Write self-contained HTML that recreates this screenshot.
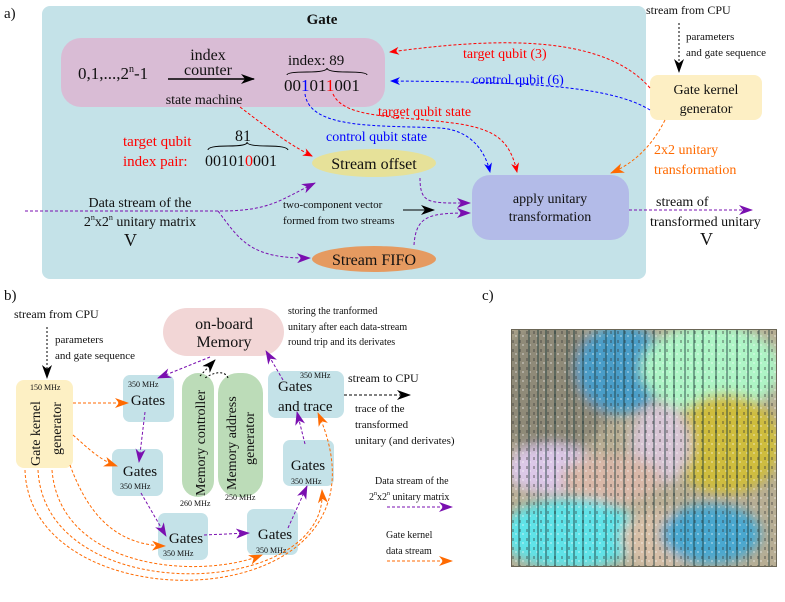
<!DOCTYPE html>
<html><head><meta charset="utf-8"><style>
body{margin:0;background:#fff}
svg{display:block}
text{font-family:"Liberation Serif",serif;fill:#111}
</style></head><body>
<svg width="785" height="602" viewBox="0 0 785 602" xmlns="http://www.w3.org/2000/svg">
<defs>
<marker id="mr" markerWidth="10" markerHeight="8" refX="9" refY="4" orient="auto" markerUnits="userSpaceOnUse"><path d="M0,0 L10,4 L0,8 L3,4z" fill="#f00"/></marker>
<marker id="mb" markerWidth="10" markerHeight="8" refX="9" refY="4" orient="auto" markerUnits="userSpaceOnUse"><path d="M0,0 L10,4 L0,8 L3,4z" fill="#00f"/></marker>
<marker id="mp" markerWidth="14" markerHeight="10" refX="13" refY="5" orient="auto" markerUnits="userSpaceOnUse"><path d="M0,0 L14,5 L0,10 L4,5z" fill="#7a0fb0"/></marker>
<marker id="mo" markerWidth="14" markerHeight="10" refX="13" refY="5" orient="auto" markerUnits="userSpaceOnUse"><path d="M0,0 L14,5 L0,10 L4,5z" fill="#ff6a00"/></marker>
<marker id="mk" markerWidth="14" markerHeight="10" refX="13" refY="5" orient="auto" markerUnits="userSpaceOnUse"><path d="M0,0 L14,5 L0,10 L4,5z" fill="#000"/></marker>
<filter id="bl"><feGaussianBlur stdDeviation="6"/></filter>
<pattern id="nz" width="7" height="9" patternUnits="userSpaceOnUse"><rect x="1" y="2" width="2" height="3" fill="#333" opacity="0.35"/><rect x="4" y="6" width="2" height="2" fill="#fff" opacity="0.3"/></pattern>
</defs>

<text x="4" y="18" font-size="15">a)</text>
<rect x="42" y="6" width="604" height="273" rx="8" fill="#c4e2e8"/>
<text x="322" y="24" font-size="15" font-weight="bold" text-anchor="middle">Gate</text>
<rect x="61" y="38" width="324" height="69" rx="20" fill="#d9bcd5"/>
<text x="78" y="79" font-size="17">0,1,...,2<tspan font-size="10" dy="-7">n</tspan><tspan dy="7">-1</tspan></text>
<text x="208" y="60" font-size="16" text-anchor="middle">index</text>
<text x="208" y="75" font-size="16" text-anchor="middle">counter</text>
<line x1="168" y1="79" x2="254" y2="79" stroke="#000" stroke-width="1.5" marker-end="url(#mk)"/>
<text x="204" y="104" font-size="14" text-anchor="middle">state machine</text>
<text x="288" y="65" font-size="15">index: 89</text>
<path d="M287,75 q0,-3 20,-3 t20,-4 q0,4 20,4 t20,3" fill="none" stroke="#000"/>
<text x="284" y="91" font-size="17">00<tspan fill="#00f">1</tspan>01<tspan fill="#f00">1</tspan>001</text>

<text x="123" y="146" font-size="15" style="fill:#f00">target qubit</text>
<text x="123" y="166" font-size="15" style="fill:#f00">index pair:</text>
<text x="235" y="141" font-size="16">81</text>
<path d="M208,150 q0,-4 20,-4 t19,-4 q0,4 20,4 t21,4" fill="none" stroke="#000"/>
<text x="205" y="166" font-size="16">00101<tspan style="fill:#f00">0</tspan>001</text>

<ellipse cx="374" cy="163" rx="62" ry="14" fill="#e6e199"/>
<text x="374" y="169" font-size="16" text-anchor="middle">Stream offset</text>
<ellipse cx="374" cy="259" rx="62" ry="13" fill="#e59a60"/>
<text x="374" y="265" font-size="16" text-anchor="middle">Stream FIFO</text>
<rect x="472" y="175" width="157" height="65" rx="18" fill="#b3bbe8"/>
<text x="550" y="203" font-size="14" text-anchor="middle">apply unitary</text>
<text x="550" y="221" font-size="14" text-anchor="middle">transformation</text>
<rect x="650" y="75" width="112" height="45" rx="8" fill="#fdefc4"/>
<text x="706" y="94" font-size="14" text-anchor="middle">Gate kernel</text>
<text x="706" y="113" font-size="14" text-anchor="middle">generator</text>
<text x="646" y="14" font-size="12">stream from CPU</text>
<text x="686" y="40" font-size="11">parameters</text>
<text x="686" y="56" font-size="11">and gate sequence</text>
<line x1="679" y1="23" x2="679" y2="72" stroke="#000" stroke-dasharray="2,2" marker-end="url(#mk)"/>

<path d="M650,88 C600,30 480,40 390,52" fill="none" stroke="#f00" stroke-dasharray="3,2" marker-end="url(#mr)"/>
<text x="463" y="58" font-size="14" style="fill:#f00">target qubit (3)</text>
<path d="M650,110 C610,85 520,82 391,81" fill="none" stroke="#00f" stroke-dasharray="3,2" marker-end="url(#mb)"/>
<text x="472" y="84" font-size="14" style="fill:#00f">control qubit (6)</text>
<path d="M333,94 C345,120 400,115 460,124 C495,130 510,140 517,172" fill="none" stroke="#f00" stroke-dasharray="3,2" marker-end="url(#mr)"/>
<text x="378" y="116" font-size="14" style="fill:#f00">target qubit state</text>
<path d="M305,94 C310,130 380,125 440,128 C470,130 485,150 490,172" fill="none" stroke="#00f" stroke-dasharray="3,2" marker-end="url(#mb)"/>
<text x="326" y="141" font-size="14" style="fill:#00f">control qubit state</text>
<path d="M240,107 C270,130 290,145 312,156" fill="none" stroke="#f00" stroke-dasharray="3,2" marker-end="url(#mr)"/>
<path d="M665,120 C650,150 630,165 611,173" fill="none" stroke="#ff6a00" stroke-dasharray="3,2" marker-end="url(#mo)"/>
<text x="654" y="154" font-size="14" style="fill:#ff6a00">2x2 unitary</text>
<text x="654" y="174" font-size="14" style="fill:#ff6a00">transformation</text>
<path d="M25,211 L220,211 C270,211 280,200 315,183" fill="none" stroke="#7a0fb0" stroke-dasharray="3,2" marker-end="url(#mp)"/>
<path d="M218,211 C240,240 250,259 310,258" fill="none" stroke="#7a0fb0" stroke-dasharray="3,2" marker-end="url(#mp)"/>
<text x="140" y="207" font-size="14" text-anchor="middle">Data stream of the</text>
<text x="140" y="226" font-size="14" text-anchor="middle">2<tspan font-size="8" dy="-6">n</tspan><tspan dy="6">x2</tspan><tspan font-size="8" dy="-6">n</tspan><tspan dy="6"> unitary matrix</tspan></text>
<text x="124" y="246" font-size="18">V</text>
<text x="283" y="208" font-size="11">two-component vector</text>
<text x="283" y="224" font-size="11">formed from two streams</text>
<line x1="403" y1="210" x2="434" y2="210" stroke="#000" marker-end="url(#mk)"/>
<path d="M420,178 C420,205 430,203 470,203" fill="none" stroke="#7a0fb0" stroke-dasharray="3,2" marker-end="url(#mp)"/>
<path d="M414,245 C416,215 430,213 470,213" fill="none" stroke="#7a0fb0" stroke-dasharray="3,2" marker-end="url(#mp)"/>
<path d="M629,210 L752,210" fill="none" stroke="#7a0fb0" stroke-dasharray="3,2" marker-end="url(#mp)"/>
<text x="656" y="206" font-size="14">stream of</text>
<text x="650" y="226" font-size="14">transformed unitary</text>
<text x="700" y="245" font-size="18">V</text>

<text x="4" y="300" font-size="15">b)</text>
<text x="14" y="318" font-size="12">stream from CPU</text>
<line x1="47" y1="327" x2="47" y2="378" stroke="#000" stroke-dasharray="2,2" marker-end="url(#mk)"/>
<text x="55" y="343" font-size="11">parameters</text>
<text x="55" y="359" font-size="11">and gate sequence</text>
<rect x="16" y="380" width="57" height="88" rx="8" fill="#fdf0c4"/>
<text x="30" y="390" font-size="8">150 MHz</text>
<text transform="translate(40,466) rotate(-90)" font-size="14">Gate kernel</text>
<text transform="translate(61,455) rotate(-90)" font-size="14">generator</text>
<rect x="163" y="308" width="121" height="48" rx="24" fill="#f2d6d6"/>
<text x="224" y="329" font-size="16" text-anchor="middle">on-board</text>
<text x="224" y="347" font-size="16" text-anchor="middle">Memory</text>
<text x="288" y="314" font-size="10">storing the tranformed</text>
<text x="288" y="330" font-size="10">unitary after each data-stream</text>
<text x="288" y="345" font-size="10">round trip and its derivates</text>
<rect x="182" y="373" width="32" height="124" rx="16" fill="#bcdcb8"/>
<rect x="218" y="373" width="45" height="124" rx="20" fill="#bcdcb8"/>
<text transform="translate(205,496) rotate(-90)" font-size="14">Memory controller</text>
<text transform="translate(236,490) rotate(-90)" font-size="14">Memory address</text>
<text transform="translate(254,465) rotate(-90)" font-size="14">generator</text>
<text x="180" y="506" font-size="8">260 MHz</text>
<text x="225" y="500" font-size="8">250 MHz</text>

<g fill="#c4e2e8">
<rect x="123" y="375" width="51" height="47" rx="7"/>
<rect x="112" y="449" width="51" height="47" rx="7"/>
<rect x="158" y="513" width="50" height="47" rx="7"/>
<rect x="247" y="509" width="51" height="46" rx="7"/>
<rect x="283" y="440" width="51" height="46" rx="7"/>
<rect x="268" y="371" width="76" height="47" rx="8"/>
</g>
<text x="128" y="387" font-size="8">350 MHz</text><text x="148" y="405" font-size="15" text-anchor="middle">Gates</text>
<text x="140" y="476" font-size="15" text-anchor="middle">Gates</text><text x="120" y="489" font-size="8">350 MHz</text>
<text x="186" y="543" font-size="15" text-anchor="middle">Gates</text><text x="163" y="556" font-size="8">350 MHz</text>
<text x="275" y="539" font-size="15" text-anchor="middle">Gates</text><text x="256" y="553" font-size="8">350 MHz</text>
<text x="308" y="470" font-size="15" text-anchor="middle">Gates</text><text x="291" y="484" font-size="8">350 MHz</text>
<text x="300" y="378" font-size="8">350 MHz</text>
<text x="278" y="391" font-size="15">Gates</text><text x="278" y="411" font-size="15">and trace</text>
<text x="348" y="382" font-size="12">stream to CPU</text>
<line x1="344" y1="395" x2="410" y2="395" stroke="#000" stroke-dasharray="3,2" marker-end="url(#mk)"/>
<text x="355" y="412" font-size="11">trace of the</text>
<text x="355" y="428" font-size="11">transformed</text>
<text x="355" y="444" font-size="11">unitary (and derivates)</text>
<text x="375" y="484" font-size="10">Data stream of the</text>
<text x="369" y="500" font-size="10">2<tspan font-size="6" dy="-5">n</tspan><tspan dy="5">x2</tspan><tspan font-size="6" dy="-5">n</tspan><tspan dy="5"> unitary matrix</tspan></text>
<line x1="387" y1="507" x2="452" y2="507" stroke="#7a0fb0" stroke-dasharray="3,2" marker-end="url(#mp)"/>
<text x="386" y="538" font-size="10">Gate kernel</text>
<text x="386" y="554" font-size="10">data stream</text>
<line x1="387" y1="561" x2="452" y2="561" stroke="#ff6a00" stroke-dasharray="3,2" marker-end="url(#mo)"/>

<g fill="none" stroke="#7a0fb0" stroke-dasharray="3,2">
<path d="M210,357 L158,378" marker-end="url(#mp)"/>
<path d="M145,412 L139,462" marker-end="url(#mp)"/>
<path d="M141,493 L166,536" marker-end="url(#mp)"/>
<path d="M204,535 L249,533" marker-end="url(#mp)"/>
<path d="M288,528 L307,486" marker-end="url(#mp)"/>
<path d="M305,444 L297,412" marker-end="url(#mp)"/>
<path d="M283,380 L266,351" marker-end="url(#mp)"/>
</g>
<path d="M200,376 L215,360" fill="none" stroke="#000" stroke-dasharray="2,2" marker-end="url(#mk)"/>
<path d="M228,378 C225,370 214,372 205,378" fill="none" stroke="#000" stroke-dasharray="2,2"/>
<g fill="none" stroke="#ff6a00" stroke-dasharray="3,2">
<path d="M73,403 L128,403" marker-end="url(#mo)"/>
<path d="M73,435 C90,450 100,460 117,466" marker-end="url(#mo)"/>
<path d="M70,465 C90,520 120,545 165,546" marker-end="url(#mo)"/>
<path d="M52,470 C60,570 200,580 262,555" marker-end="url(#mo)"/>
<path d="M38,470 C45,610 330,600 322,490" marker-end="url(#mo)"/>
<path d="M25,470 C30,630 410,620 318,413" marker-end="url(#mo)"/>
</g>

<text x="482" y="300" font-size="15">c)</text>
<svg x="511" y="329" width="266" height="238" viewBox="0 0 266 238">
<rect width="266" height="238" fill="#b8ae94"/>
<g filter="url(#bl)">
<ellipse cx="40" cy="60" rx="60" ry="70" fill="#8f8a78"/>
<ellipse cx="110" cy="40" rx="45" ry="45" fill="#4a9dc8"/>
<ellipse cx="200" cy="40" rx="70" ry="45" fill="#aef5c6"/>
<ellipse cx="215" cy="115" rx="55" ry="50" fill="#cfbd3e"/>
<ellipse cx="150" cy="115" rx="30" ry="40" fill="#d8c6d6"/>
<ellipse cx="40" cy="140" rx="45" ry="25" fill="#dcc8e8"/>
<ellipse cx="100" cy="150" rx="50" ry="25" fill="#d9b8a8"/>
<ellipse cx="60" cy="205" rx="70" ry="35" fill="#5ee3e8"/>
<ellipse cx="150" cy="210" rx="40" ry="30" fill="#d8c0a8"/>
<ellipse cx="200" cy="205" rx="50" ry="30" fill="#4aa8d0"/>
</g>
<rect width="266" height="238" fill="url(#nz)"/>
<g stroke="#1a3a3a" stroke-width="1.2" opacity="0.7">
<line x1="8" y1="0" x2="8" y2="238"/><line x1="18" y1="0" x2="18" y2="238"/><line x1="27" y1="0" x2="27" y2="238"/>
<line x1="35" y1="0" x2="35" y2="238"/><line x1="44" y1="0" x2="44" y2="238"/><line x1="56" y1="0" x2="56" y2="238"/>
<line x1="63" y1="0" x2="63" y2="238"/><line x1="72" y1="0" x2="72" y2="238"/><line x1="84" y1="0" x2="84" y2="238"/>
<line x1="95" y1="0" x2="95" y2="238"/><line x1="104" y1="0" x2="104" y2="238"/><line x1="113" y1="0" x2="113" y2="238"/>
<line x1="122" y1="0" x2="122" y2="238"/><line x1="134" y1="0" x2="134" y2="238"/><line x1="143" y1="0" x2="143" y2="238"/>
<line x1="154" y1="0" x2="154" y2="238"/><line x1="163" y1="0" x2="163" y2="238"/><line x1="174" y1="0" x2="174" y2="238"/>
<line x1="183" y1="0" x2="183" y2="238"/><line x1="192" y1="0" x2="192" y2="238"/><line x1="205" y1="0" x2="205" y2="238"/>
<line x1="216" y1="0" x2="216" y2="238"/><line x1="226" y1="0" x2="226" y2="238"/><line x1="237" y1="0" x2="237" y2="238"/>
<line x1="248" y1="0" x2="248" y2="238"/><line x1="258" y1="0" x2="258" y2="238"/>
</g>
<rect width="266" height="238" fill="none" stroke="#6b6656" stroke-width="2"/>
</svg>
</svg>
</body></html>
